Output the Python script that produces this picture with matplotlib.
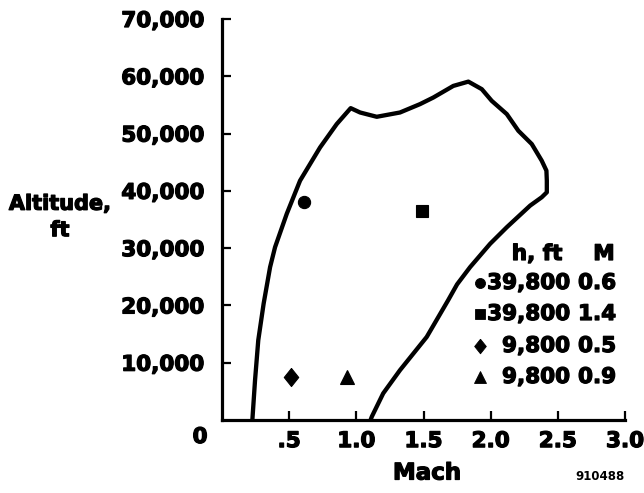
import matplotlib
matplotlib.use("Agg")
import matplotlib.pyplot as plt
import matplotlib.patheffects as pe
from matplotlib.ticker import FuncFormatter

# ---- data ----
env_mach = [0.226, 0.246, 0.27, 0.31, 0.358, 0.395, 0.482, 0.581, 0.73, 0.854,
            0.958, 1.028, 1.152, 1.325, 1.474, 1.573, 1.722, 1.834, 1.934, 2.008,
            2.12, 2.206, 2.306, 2.38, 2.415, 2.418, 2.418, 2.38, 2.294, 2.12,
            1.996, 1.847, 1.75, 1.683, 1.524, 1.325, 1.20, 1.115, 1.106]
env_alt = [0, 6960, 13930, 20320, 26690, 30170, 35990, 41780, 47580, 51660,
           54440, 53680, 52930, 53680, 55140, 56290, 58320, 59070, 57750, 55710,
           53400, 50490, 48170, 45270, 43530, 41790, 39750, 38880, 37430, 33650,
           30760, 26690, 23680, 20890, 14500, 8700, 4650, 570, 0]

pt_mach = [0.613, 1.487, 0.512, 0.933]
pt_alt = [38130, 36440, 7430, 7540]
pt_markers = ["o", "s", "diamond", "^"]

leg_h = ["39,800", "39,800", "9,800", "9,800"]
leg_m = ["0.6", "1.4", "0.5", "0.9"]

xticks = [0.5, 1.0, 1.5, 2.0, 2.5, 3.0]
xticklabels = [".5", "1.0", "1.5", "2.0", "2.5", "3.0"]
yticks = [10000, 20000, 30000, 40000, 50000, 60000, 70000]

# ---- figure ----
W, H = 644, 493
fig = plt.figure(figsize=(W / 100, H / 100), dpi=100)
plt.rcParams['font.family'] = ['DejaVu Sans']
ax = fig.add_axes([222 / W, 1 - 420 / H, (625 - 222) / W, (420 - 19) / H])

heavy = [pe.withStroke(linewidth=0.9, foreground="black")]

def fx(px):
    return px / W

def fy(py):
    return 1 - py / H

diamond = [(0, 1), (0.8, 0), (0, -1), (-0.8, 0), (0, 1)]

def mk(m):
    return diamond if m == "diamond" else m

ax.plot(env_mach, env_alt, color="black", lw=3.1, solid_joinstyle="round",
        solid_capstyle="butt", clip_on=False)

plot_ms = {"o": 8.8, "s": 9.2, "diamond": 13, "^": 10.5}
for m, a, mkr in zip(pt_mach, pt_alt, pt_markers):
    ax.plot([m], [a], marker=mk(mkr), ms=plot_ms[mkr], color="black",
            mec="black", mew=0.8, ls="none")

ax.set_xlim(0, 3.0)
ax.set_ylim(0, 70000)
for s in ["top", "right"]:
    ax.spines[s].set_visible(False)
for s in ["left", "bottom"]:
    ax.spines[s].set_linewidth(2.3)

ax.set_xticks(xticks)
ax.set_xticklabels(xticklabels)
ax.set_yticks(yticks)
ax.yaxis.set_major_formatter(FuncFormatter(lambda v, p: f"{int(v):,}"))
ax.tick_params(axis="both", direction="in", length=6.5, width=1.6,
               labelsize=15.5)
ax.tick_params(axis="x", pad=8)
ax.tick_params(axis="y", pad=13)
for lbl in ax.get_xticklabels() + ax.get_yticklabels():
    lbl.set_fontweight("bold")
    lbl.set_path_effects(heavy)

def t(x, y, s, **kw):
    kw.setdefault("fontweight", "bold")
    kw.setdefault("va", "center")
    return fig.text(fx(x), fy(y), s, path_effects=heavy, **kw)

# origin label
t(200, 437, "0", ha="center", fontsize=15.5)

# axis labels
t(60, 217, "Altitude,\nft", ha="center", fontsize=15, linespacing=1.4)
t(427, 473, "Mach", ha="center", fontsize=16.5)
fig.text(fx(600), fy(477), "910488", ha="center", va="center",
         fontsize=8.5, fontweight="bold")

# key table
t(537, 254, "h, ft", ha="center", fontsize=15.5)
t(604, 254, "M", ha="center", fontsize=15.5)
row_y = [283, 314, 346, 377]
leg_ms = {"o": 7.2, "s": 7.2, "diamond": 10.5, "^": 8.5}
for yy, h, m, mkr in zip(row_y, leg_h, leg_m, pt_markers):
    fig.add_artist(plt.Line2D([fx(480)], [fy(yy)], transform=fig.transFigure,
                              marker=mk(mkr), ms=leg_ms[mkr], color="black",
                              mew=0.6, ls="none"))
    t(570, yy, h, ha="right", fontsize=15.5)
    t(578, yy, m, ha="left", fontsize=15.5)

fig.savefig("out.png", dpi=100)
